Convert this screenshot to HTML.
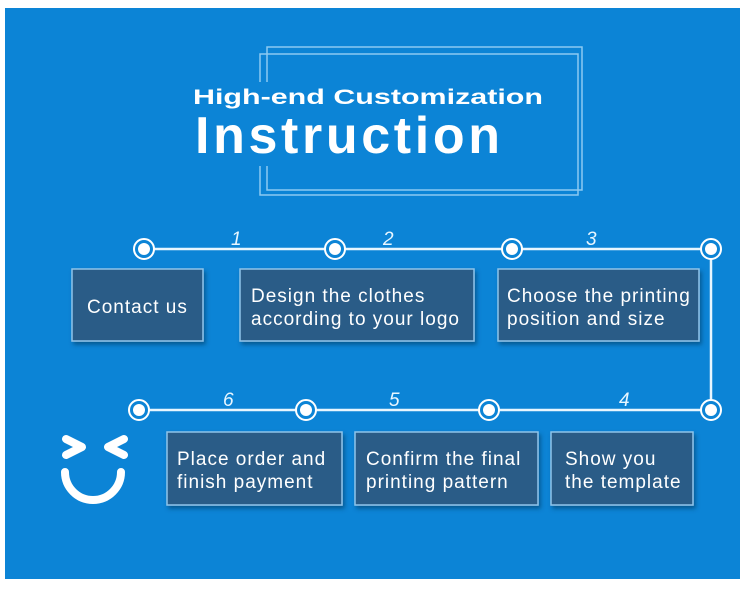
<!DOCTYPE html>
<html><head><meta charset="utf-8"><style>
html,body{margin:0;padding:0;background:#fff;}
body{width:750px;height:586px;overflow:hidden;}
</style></head><body>
<svg width="750" height="586" xmlns="http://www.w3.org/2000/svg" font-family="Liberation Sans, sans-serif">
<defs><filter id="sh" x="-10%" y="-10%" width="130%" height="140%"><feDropShadow dx="2" dy="3" stdDeviation="2" flood-color="#053a66" flood-opacity="0.6"/></filter></defs>
<rect x="5" y="8" width="735" height="571" fill="#0c84d6"/>
<g fill="none" stroke="#8ccaf2" stroke-width="1.5">
<path d="M267 82 V47 H582 V190 H267 V166"/>
<path d="M260 82 V54 H578 V195 H260 V166"/>
</g>
<text x="193" y="104" fill="#fff" font-weight="bold" font-size="21" textLength="350" lengthAdjust="spacingAndGlyphs">High-end Customization</text>
<text x="195" y="153" fill="#fff" font-weight="bold" font-size="52" textLength="305" lengthAdjust="spacing">Instruction</text>
<g stroke="#e8f6ff" stroke-width="2.5" fill="none">
<path d="M144 249 H711 V410 H139"/>
</g>
<g fill="#fff" stroke="#fff">
<g fill="#0c84d6" stroke-width="2"><circle cx="144" cy="249" r="10"/><circle cx="335" cy="249" r="10"/><circle cx="512" cy="249" r="10"/><circle cx="711" cy="249" r="10"/><circle cx="139" cy="410" r="10"/><circle cx="306" cy="410" r="10"/><circle cx="489" cy="410" r="10"/><circle cx="711" cy="410" r="10"/></g>
<g stroke="none"><circle cx="144" cy="249" r="6"/><circle cx="335" cy="249" r="6"/><circle cx="512" cy="249" r="6"/><circle cx="711" cy="249" r="6"/><circle cx="139" cy="410" r="6"/><circle cx="306" cy="410" r="6"/><circle cx="489" cy="410" r="6"/><circle cx="711" cy="410" r="6"/></g>
</g>
<g fill="#e8f6ff" font-style="italic" font-size="19">
<text x="231" y="245">1</text><text x="383" y="245">2</text><text x="586" y="245">3</text>
<text x="223" y="406">6</text><text x="389" y="406">5</text><text x="619" y="406">4</text>
</g>
<g fill="#2b5b87" stroke="#8fc4ea" stroke-width="1.5" filter="url(#sh)">
<rect x="72" y="269" width="131" height="72"/>
<rect x="240" y="269" width="234" height="72"/>
<rect x="498" y="269" width="201" height="72"/>
<rect x="167" y="432" width="175" height="73"/>
<rect x="355" y="432" width="183" height="73"/>
<rect x="551" y="432" width="142" height="73"/>
</g>
<g fill="#fff" font-size="19" letter-spacing="1">
<text x="87" y="313">Contact us</text>
<text x="251" y="302">Design the clothes</text><text x="251" y="325">according to your logo</text>
<text x="507" y="302">Choose the printing</text><text x="507" y="325">position and size</text>
<text x="177" y="465">Place order and</text><text x="177" y="488">finish payment</text>
<text x="366" y="465">Confirm the final</text><text x="366" y="488">printing pattern</text>
<text x="565" y="465">Show you</text><text x="565" y="488">the template</text>
</g>
<g stroke="#fff" stroke-width="8" stroke-linecap="round" stroke-linejoin="round" fill="none">
<path d="M66 439 L82 447 L66 455"/>
<path d="M124 439 L108 447 L124 455"/>
<path d="M65 472 A28 28 0 0 0 121 472"/>
</g>
</svg>
</body></html>
